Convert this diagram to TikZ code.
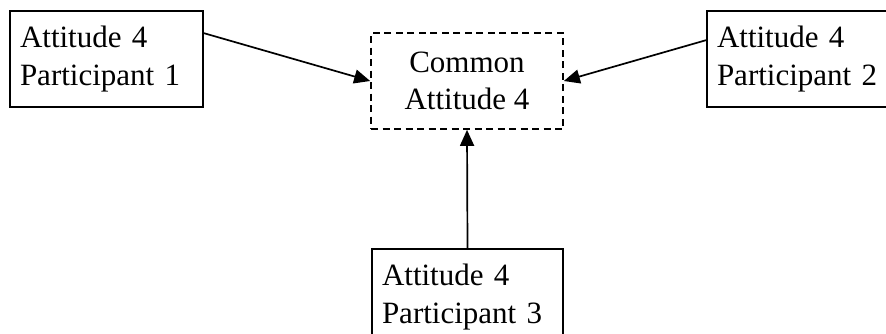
\documentclass[tikz,border=0pt]{standalone}
\usepackage{fontspec}
\setmainfont{Liberation Serif}
\usetikzlibrary{arrows.meta,calc}
\begin{document}
\begin{tikzpicture}[x=1pt,y=-1pt,
  lbl/.style={font=\fontsize{31}{37.5}\selectfont},
  partbox/.style={lbl,draw,line width=1.7pt,minimum height=96pt,
    inner xsep=10pt,inner ysep=0pt,align=left},
  commonbox/.style={lbl,draw,line width=1.7pt,dash pattern=on 7pt off 4.5pt,
    minimum width=192pt,minimum height=96pt,align=center,inner sep=0pt},
  link/.style={line width=1.7pt,-{Triangle[length=16pt,width=14pt]}}]
\clip (0,0) rectangle (886,333);
\node[partbox,text width=173pt] (p1) at (106.5,59) {Attitude 4\\Participant 1};
\node[commonbox] (c) at (467,81) {Common\\Attitude 4};
\node[partbox,text width=173pt] (p2) at (803.5,59) {Attitude 4\\Participant 2};
\node[partbox,text width=171pt] (p3) at (467.5,297) {Attitude 4\\Participant 3};
\draw[link] ($(p1.north east)+(0,23)$) -- (c.west);
\draw[link] ($(p2.north west)+(0,30)$) -- (c.east);
\draw[link] (p3.north) -- (c.south);
\end{tikzpicture}
\end{document}
